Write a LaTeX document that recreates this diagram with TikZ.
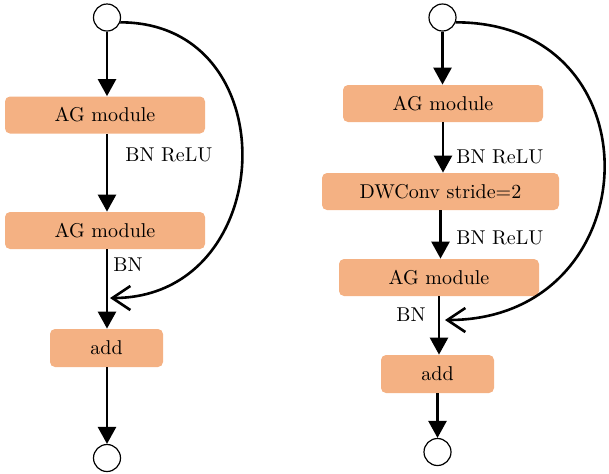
\documentclass[tikz,border=0pt]{standalone}
\usetikzlibrary{arrows.meta}
\definecolor{boxfill}{HTML}{F4B183}
\begin{document}
\begin{tikzpicture}[x=0.5pt,y=-0.5pt,
  blk/.style={fill=boxfill, rounded corners=2.5pt, minimum height=18.5pt, inner sep=0pt, font=\fontsize{10}{12}\selectfont},
  port/.style={circle, draw, line width=0.6pt, minimum size=13.5pt, inner sep=0pt},
  flow/.style={line width=1.3pt, -{Triangle[length=8.5pt,width=9pt]}},
  skip/.style={line width=1.3pt, -{Straight Barb[length=9pt,width=12pt,line width=1.3pt]}},
  lbl/.style={anchor=west, inner sep=0pt, font=\fontsize{10}{12}\selectfont}]
\useasboundingbox (0,0) rectangle (609,473);
% left
\node[port] (lc1) at (107,17.5) {};
\node[blk, minimum width=100pt] (lb1) at (105,115) {AG module};
\node[blk, minimum width=100pt] (lb2) at (105,230.5) {AG module};
\node[blk, minimum width=56.5pt, minimum height=19pt] (ladd) at (106.5,348) {add};
\node[port] (lc2) at (107,458) {};
\coordinate (lm) at (110,298);
\node[lbl] (ll1) at (125,155) {BN ReLU};
\node[lbl] (ll2) at (113,265) {BN};
\draw[flow] (lc1.south) -- (lc1.south |- lb1.north);
\draw[flow] (lb1.south -| lc1) -- (lb2.north -| lc1);
\draw[flow] (lb2.south -| lc1) -- (ladd.north -| lc1);
\draw[flow] (ladd.south -| lc1) -- (lc2.north);
\draw[skip] (lc1.-20) .. controls +(169,0) and +(169,0) .. (lm);
% right
\node[port] (rc1) at (442.5,17.5) {};
\node[blk, minimum width=100pt] (rb1) at (443,103.5) {AG module};
\node[blk, minimum width=118.5pt] (rb2) at (440.5,191.5) {DWConv stride=2};
\node[blk, minimum width=100pt] (rb3) at (439,277.5) {AG module};
\node[blk, minimum width=56.5pt, minimum height=19pt] (radd) at (437.5,374) {add};
\node[port] (rc2) at (437.5,452) {};
\coordinate (rm) at (445,320);
\node[lbl] (rl1) at (456,157) {BN ReLU};
\node[lbl] (rl2) at (456,238) {BN ReLU};
\node[lbl] (rl3) at (396,315) {BN};
\draw[flow] (rc1.south) -- (rc1.south |- rb1.north);
\draw[flow] (rb1.south) -- (rb1.south |- rb2.north);
\draw[flow] (rb2.south) -- (rb2.south |- rb3.north);
\draw[flow] (rb3.south) -- (rb3.south |- radd.north);
\draw[flow] (radd.south) -- (rc2.north);
\draw[skip] (rc1.-20) .. controls +(205,0) and +(205,0) .. (rm);
\end{tikzpicture}
\end{document}
